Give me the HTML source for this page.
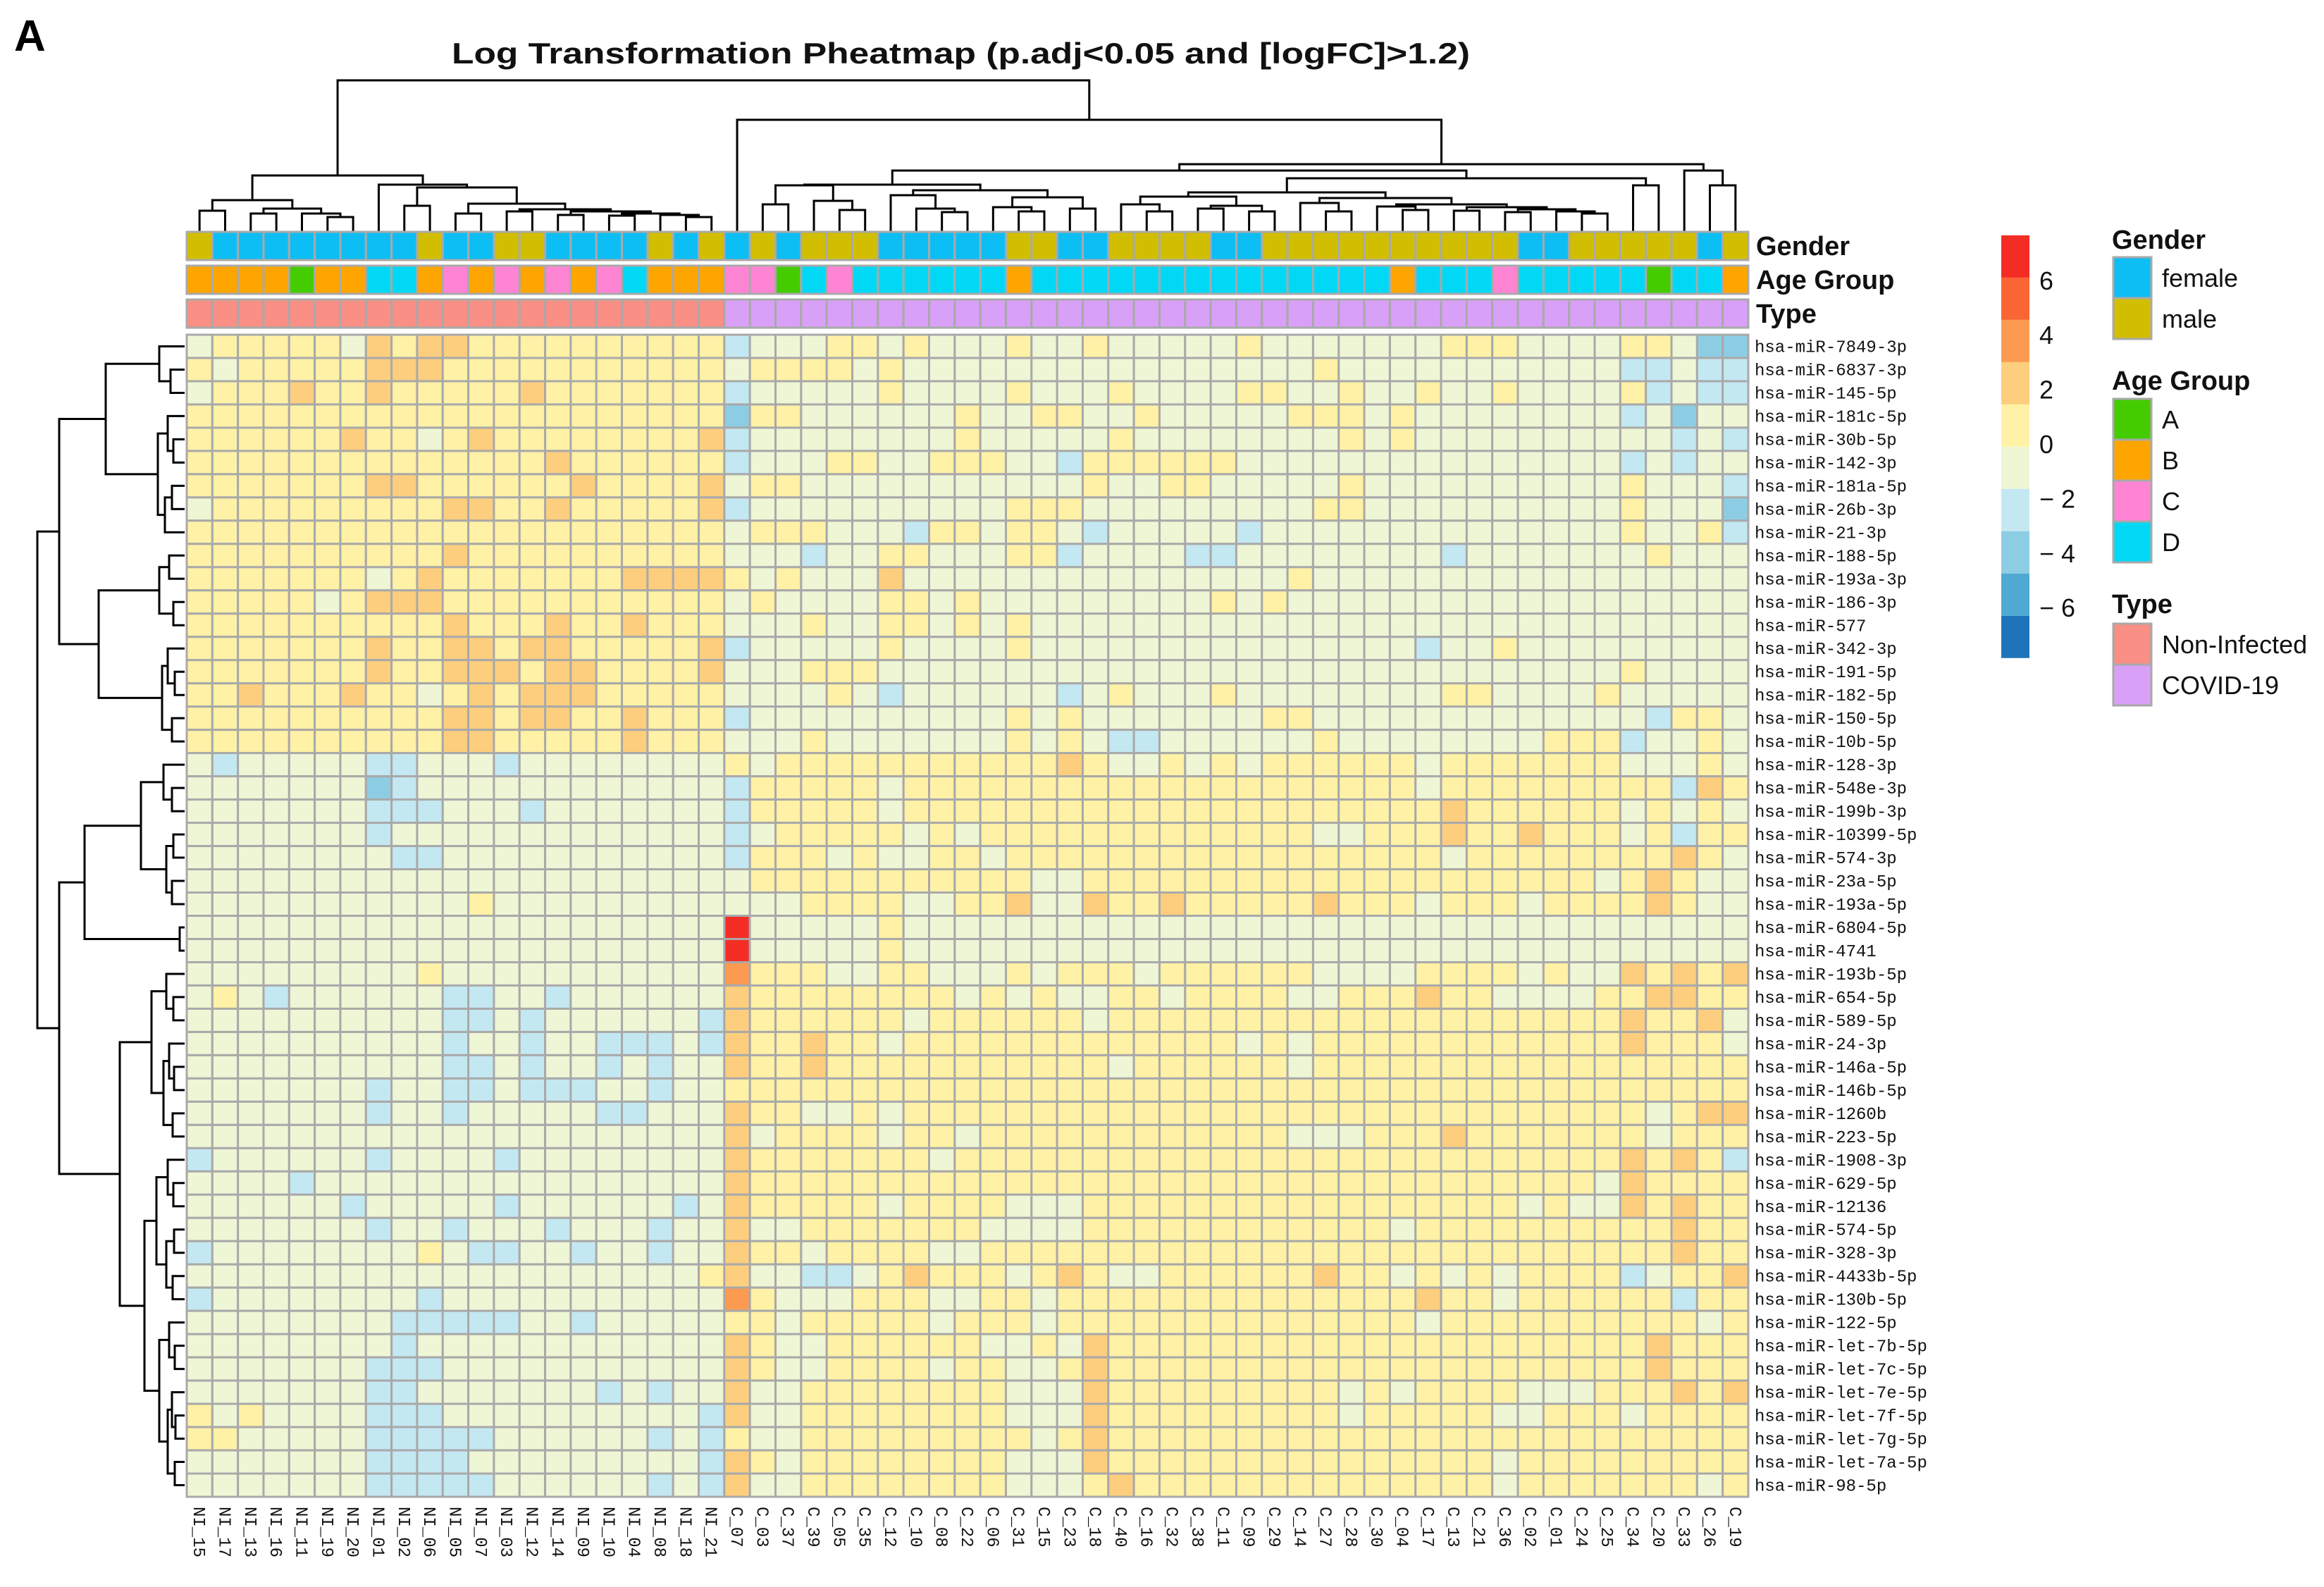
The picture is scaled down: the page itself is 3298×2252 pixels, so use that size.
<!DOCTYPE html>
<html><head><meta charset="utf-8"><title>Log Transformation Pheatmap</title>
<style>
html,body{margin:0;padding:0;background:#fff;}
svg{display:block;}
</style></head>
<body>
<svg id="chart" xmlns="http://www.w3.org/2000/svg" width="3298" height="2252" viewBox="0 0 3298 2252">
<rect x="0" y="0" width="3298" height="2252" fill="#ffffff"/>
<text x="20" y="72" font-family="Liberation Sans, sans-serif" font-weight="bold" font-size="62" fill="#000">A</text>
<text x="641" y="90" textLength="1445" lengthAdjust="spacingAndGlyphs" font-family="Liberation Sans, sans-serif" font-weight="bold" font-size="42" fill="#111">Log Transformation  Pheatmap  (p.adj&lt;0.05  and  [logFC]&gt;1.2)</text>
<g id="dendro-col"></g>
<g id="dendro-row"></g>
<g id="annot"></g>
<g id="cells"></g>
<g id="rowlabels"></g>
<g id="collabels"></g>
<g id="colorbar"></g>
<g id="legend"></g>
</svg>
<script>
// ---------- data ----------
const columnNames = ["NI_15","NI_17","NI_13","NI_16","NI_11","NI_19","NI_20","NI_01","NI_02","NI_06","NI_05","NI_07","NI_03","NI_12","NI_14","NI_09","NI_10","NI_04","NI_08","NI_18","NI_21",
"C_07","C_03","C_37","C_39","C_05","C_35","C_12","C_10","C_08","C_22","C_06","C_31","C_15","C_23","C_18","C_40","C_16","C_32","C_38","C_11","C_09","C_29","C_14","C_27","C_28","C_30","C_04","C_17","C_13","C_21","C_36","C_02","C_01","C_24","C_25","C_34","C_20","C_33","C_26","C_19"];
const rowNames = ["hsa-miR-7849-3p","hsa-miR-6837-3p","hsa-miR-145-5p","hsa-miR-181c-5p","hsa-miR-30b-5p","hsa-miR-142-3p","hsa-miR-181a-5p","hsa-miR-26b-3p","hsa-miR-21-3p","hsa-miR-188-5p","hsa-miR-193a-3p","hsa-miR-186-3p","hsa-miR-577","hsa-miR-342-3p","hsa-miR-191-5p","hsa-miR-182-5p","hsa-miR-150-5p","hsa-miR-10b-5p","hsa-miR-128-3p","hsa-miR-548e-3p","hsa-miR-199b-3p","hsa-miR-10399-5p","hsa-miR-574-3p","hsa-miR-23a-5p","hsa-miR-193a-5p","hsa-miR-6804-5p","hsa-miR-4741","hsa-miR-193b-5p","hsa-miR-654-5p","hsa-miR-589-5p","hsa-miR-24-3p","hsa-miR-146a-5p","hsa-miR-146b-5p","hsa-miR-1260b","hsa-miR-223-5p","hsa-miR-1908-3p","hsa-miR-629-5p","hsa-miR-12136","hsa-miR-574-5p","hsa-miR-328-3p","hsa-miR-4433b-5p","hsa-miR-130b-5p","hsa-miR-122-5p","hsa-miR-let-7b-5p","hsa-miR-let-7c-5p","hsa-miR-let-7e-5p","hsa-miR-let-7f-5p","hsa-miR-let-7g-5p","hsa-miR-let-7a-5p","hsa-miR-98-5p"];
// value levels (log-scale expression) keyed by code letter
const levelCodes = ["r","O","o","y","g","b","B"];
const levelValues = [6.9, 3.8, 2.2, 0.7, -0.8, -2.4, -3.9];
// run-length encoded cell levels per row (NI | C part1 | C part2)
const cellRows = [
"g y5 g o y o2 y10 b g3 y2 g y g3 y g2 y g5 y g7 y3 g4 y2 g B2",
"y g y5 o3 y11 g y4 g y g13 g3 y g11 b2 g b2",
"g y3 o y2 o y5 o y7 b g5 y g4 y g3 y g4 y2 g2 y g2 y g2 y g4 y b g b2",
"y21 B y2 g6 y g2 y2 g2 y g3 g2 y3 g y g8 b g B g2",
"y6 o y2 g y o y8 o b g8 y g5 y g4 g4 y g y g10 b g b",
"y14 o y6 b g3 y2 g2 y3 g2 b y6 g15 b g b g2",
"y7 o2 y6 o y4 o g y2 g11 y g2 y2 g g4 y g10 y g3 b",
"g y9 o2 y2 o y5 o b g10 y3 g6 g3 y2 g10 y g3 B",
"y21 g y3 g3 b y2 g y2 g b g5 b g14 y g2 y b",
"y10 o y10 g3 b g2 y2 g3 y2 b g4 b2 g8 b g7 y g3",
"y7 g y o y7 o4 y g y g3 o g13 g2 y g17",
"y5 g y o3 y11 g y g4 y2 g y g9 y g y g18",
"y10 o y3 o y2 o y3 g3 y g2 y2 g y g y g8 g20",
"y7 o y2 o2 y o2 y5 o b g5 y g4 y g8 g7 b g2 y g9",
"y7 o y2 o3 y o2 y4 o g3 y3 g14 g15 y g4",
"y2 o y3 o y2 g y o y o3 y5 g4 y g b g6 b g y g3 y g8 y2 g4 y g5",
"y10 o2 y o2 y2 o y3 b g10 y g y g6 g y2 g13 b y2 g",
"y10 o2 y5 o y3 g3 y g7 y g y g b2 g3 g3 y g8 y3 b g2 y g",
"g b g5 b2 g3 b g8 y g y11 o y g2 y g y g y6 g y7 g3 y g",
"g7 B b g12 b y5 g y13 y7 g y9 b o y",
"g7 b3 g3 b g7 b y5 g y13 y8 o y6 g y g y g",
"g7 b g13 b g y5 g y g y10 y3 g2 y3 o y2 o y3 g y b y2",
"g8 b2 g11 b y3 g y g2 y2 g y9 y8 g y8 o y g",
"g21 g y11 g2 y6 y14 g y o y g2",
"g11 y g9 g3 y4 g2 y2 o g2 o y2 o y2 y3 o y3 g y3 g y4 o y g2",
"g21 r g5 y g13 g20",
"g21 r g5 y g13 g20",
"g9 y g11 O y3 g2 y2 g3 y g y3 g y3 y3 g4 y4 g y g2 o y o y o",
"g y g b g6 b2 g2 b g6 o y8 g y g y g2 y2 g y2 y2 g2 y3 o y2 g4 y2 o2 y2",
"g10 b2 g b g6 b o y6 g y6 g y5 y15 o y2 o g",
"g10 b g2 b g2 b3 g b o y2 o y2 g y13 g y g y12 o y3 g",
"g10 b2 g b g2 b g b g2 o y2 o y11 g y4 y2 g y17",
"g7 b g2 b2 g b3 g2 b g2 y20 y20",
"g7 b g2 b g5 b2 g3 o y2 g2 y g y13 y16 g y o2",
"g21 o g y4 g y2 g y10 y2 g3 y3 o y7 g y3",
"b g6 b g4 b g8 o y7 g y11 y15 o y o y b",
"g4 b g16 o y19 y14 g o y4",
"g6 b g5 b g6 b g o y5 g y4 g3 y6 y11 g y g2 o y o y2",
"g7 b g2 b g3 b g3 b g2 o g2 y7 g4 y6 y6 g y10 o y2",
"b g8 y g b2 g2 b g2 b g2 o y2 g y4 g2 y10 y17 o y2",
"g20 y o g2 b2 g y o y3 g y o y g2 y3 y3 o y2 g y g y g y4 b g y2 o",
"b g8 b g11 O y g3 y3 g2 y2 g y7 y7 o y2 g y6 b y2",
"g8 b5 g2 b g5 y2 g y5 g y3 g y7 y7 g y10 g y",
"g8 b g12 o y g2 y6 g2 y g o y5 y16 o y3",
"g7 b3 g11 o y g2 y4 g y2 g2 y o y5 y16 o y3",
"g7 b2 g7 b g b g2 o g2 y8 g3 o y5 y4 g y g y4 g3 y3 o y o",
"y g y g4 b3 g10 b o g2 y8 g3 o y5 y4 g y5 g2 y3 g y4",
"y2 g5 b5 g6 b g b y g2 y9 g y o y5 y20",
"g7 b4 g9 b o y g y8 g3 o y5 y10 g y9",
"g7 b5 g6 b g b o g2 y8 g3 y o y4 y10 g y7 g y"
];
const genderCodes = "mffffffffmffmmffffmfm"+"fmfmmmfffffmmffmmmmffmmmmmmmmmmffmmmmmfm";
const ageCodes = "BBBBABBDDBCBCBCBCDBBB"+"CCADCDDDDDDBDDDDDDDDDDDDDDBDDDCDDDDDADDB";
const typeCodes = "NNNNNNNNNNNNNNNNNNNNN"+"CCCCCCCCCCCCCCCCCCCCCCCCCCCCCCCCCCCCCCCC";
const tickValues = [6,4,2,0,-2,-4,-6];
const tickLabels = ["6","4","2","0","\u2212 2","\u2212 4","\u2212 6"];
const scaleTop = 7.65, bandStep = 1.55;
const bandColors = ["#F42D24","#FA6535","#FC9A52","#FDCE7E","#FFF1A6","#EEF6D5","#C4E8F2","#8CCDE4","#50A9D2","#1F74B9"];

// dendrograms: [left, right, height] ; leaves are indices
const colTree = [
 [[[0,1,299],[[2,3,303],[4,[5,6,308],303],296],284],
  [7,[[8,9,292],[[10,11,303],[[12,13,300],[[14,15,305],[[16,17,306],[18,[19,20,308],305],303],300],297],289],266],262],249],
 [21,[[[[[22,23,290],[24,[25,26,298],285],263],[[27,[28,[29,30,301],296],277],[[31,[32,33,300],294],[34,35,296],280],270],262],
      [[[[36,[37,38,300],290],[[39,40,296],[41,42,300],292],279],[[43,[44,45,300],288],[[46,[47,48,298],293],[[49,50,299],[[51,52,301],[53,[54,55,303],300],297],294],290],281],273],[56,57,263],253],242],
     [58,[59,60,263],242],233],170],
 114];
const rowTree = [
 [[[0,[1,2,242],226],[[3,[4,5,246],238],[[6,7,244],8,234],224],150],
  [[[9,10,240],[11,12,246],226],[[13,[14,15,248],238],[16,17,244],230],140],84],
 [[[[18,[19,20,244],232],[[21,22,246],[23,24,244],236],200],[25,26,255],120],
  [[[27,[28,29,246],236],[[30,[31,32,247],240],[33,34,245],232],215],
   [[[35,[36,37,246],238],[[38,39,247],[40,41,245],236],222],[[42,[43,44,248],240],[[45,[46,47,249],244],[48,49,248],238],226],205],170],84],
 53];

// ---------- geometry ----------
const NS = "http://www.w3.org/2000/svg";
const xLeft = 265, cellW = (2481-265)/61, yTop = 475, cellH = (2124-475)/50;
const xOf = i => xLeft + i*cellW;
const yOf = j => yTop + j*cellH;
const colorOf = v => { let k = Math.floor((scaleTop - v)/bandStep); k = Math.max(0, Math.min(bandColors.length-1, k)); return bandColors[k]; };
const scaleY = v => 630 - v*38.7;

function mk(tag, attrs, parent){ const e=document.createElementNS(NS,tag); for(const k in attrs) e.setAttribute(k,attrs[k]); parent.appendChild(e); return e; }
function decode(s){ const out=[]; s.trim().split(/\s+/).forEach(t=>{ const c=t[0]; const n=t.length>1?parseInt(t.slice(1)):1; for(let i=0;i<n;i++) out.push(c); }); return out; }

// ---------- cells ----------
const cellsG = document.getElementById("cells");
cellRows.forEach((row, j) => {
  let codes = decode(row);
  while (codes.length < columnNames.length) codes.push(codes[codes.length-1]);
  codes = codes.slice(0, columnNames.length);
  codes.forEach((c, i) => {
    const v = levelValues[levelCodes.indexOf(c)];
    const r = mk("rect", {x:xOf(i), y:yOf(j), width:cellW, height:cellH, fill:colorOf(v), stroke:"#A9A9A9", "stroke-width":3}, cellsG);
    
    
  });
});

// ---------- annotations ----------
const annotG = document.getElementById("annot");
const genderColor = {f:"#0DBEF5", m:"#D2BE00"};
const ageColor = {A:"#45CC00", B:"#FFA500", C:"#FF84D4", D:"#00D8F6"};
const typeColor = {N:"#F98F85", C:"#D9A0F8"};
const annRows = [[genderCodes, genderColor, 329, "Gender", "gender-annotation"],[ageCodes, ageColor, 377, "Age Group", "age-group-annotation"],[typeCodes, typeColor, 425, "Type", "type-annotation"]];
annRows.forEach(a => {
  for (let i=0;i<columnNames.length;i++){
    const r = mk("rect",{x:xOf(i),y:a[2],width:cellW,height:40,fill:a[1][a[0][i]],stroke:"#A9A9A9","stroke-width":3},annotG);
    
    
  }
  const t = mk("text",{x:2492,y:a[2]+33,"font-family":"Liberation Sans, sans-serif","font-weight":"bold","font-size":38,fill:"#111"},annotG);
  t.textContent = a[3];
  
  
});

// ---------- labels ----------
const rlG = document.getElementById("rowlabels");
rowNames.forEach((n,j)=>{
  const t = mk("text",{x:2490,y:yOf(j)+cellH/2+8,"font-family":"Liberation Mono, monospace","font-size":24,fill:"#111"},rlG);
  t.textContent = n;
  
  
});
const clG = document.getElementById("collabels");
columnNames.forEach((n,i)=>{
  const cx = xOf(i)+cellW/2 - 8, cy = 2138;
  const t = mk("text",{x:cx,y:cy,transform:`rotate(90 ${cx} ${cy})`,"font-family":"Liberation Mono, monospace","font-size":24,fill:"#111"},clG);
  t.textContent = n;
  
  
});

// ---------- dendrograms ----------
const dcG = document.getElementById("dendro-col");
function drawCol(node){
  if (typeof node === "number") return {p: xOf(node)+cellW/2, h: 328};
  const a = drawCol(node[0]), b = drawCol(node[1]), h = node[2];
  const pl = mk("polyline",{points:`${a.p},${a.h} ${a.p},${h} ${b.p},${h} ${b.p},${b.h}`,fill:"none",stroke:"#000","stroke-width":3},dcG);
  
  
  return {p:(a.p+b.p)/2, h:h};
}
drawCol(colTree);
const drG = document.getElementById("dendro-row");
function drawRow(node){
  if (typeof node === "number") return {p: yOf(node)+cellH/2, h: 262};
  const a = drawRow(node[0]), b = drawRow(node[1]), h = node[2];
  const pl = mk("polyline",{points:`${a.h},${a.p} ${h},${a.p} ${h},${b.p} ${b.h},${b.p}`,fill:"none",stroke:"#000","stroke-width":3},drG);
  
  
  return {p:(a.p+b.p)/2, h:h};
}
drawRow(rowTree);

// ---------- color scale ----------
const cbG = document.getElementById("colorbar");
bandColors.forEach((c,k)=>{
  const y0 = scaleY(scaleTop - k*bandStep), y1 = scaleY(scaleTop - (k+1)*bandStep);
  const r = mk("rect",{x:2840,y:y0,width:40,height:y1-y0,fill:c},cbG);
  
  
});
tickValues.forEach((v,k)=>{
  const t = mk("text",{x:2894,y:scaleY(v)+13,"font-family":"Liberation Sans, sans-serif","font-size":36,fill:"#111"},cbG);
  t.textContent = tickLabels[k];
  
  
});

// ---------- annotation legend ----------
const lgG = document.getElementById("legend");
const legendGroups = [
  ["Gender", 353, [["female","#0DBEF5"],["male","#D2BE00"]], 365, "gender"],
  ["Age Group", 553, [["A","#45CC00"],["B","#FFA500"],["C","#FF84D4"],["D","#00D8F6"]], 566, "age-group"],
  ["Type", 870, [["Non-Infected","#F98F85"],["COVID-19","#D9A0F8"]], 885, "type"]
];
legendGroups.forEach(g=>{
  const t = mk("text",{x:2997,y:g[1],"font-family":"Liberation Sans, sans-serif","font-weight":"bold","font-size":38,fill:"#111"},lgG);
  t.textContent = g[0];
  
  
  g[2].forEach((e,k)=>{
    const y = g[3] + k*58;
    const r = mk("rect",{x:2999,y:y,width:54,height:58,fill:e[1],stroke:"#A9A9A9","stroke-width":3},lgG);
    
    
    const l = mk("text",{x:3068,y:y+42,"font-family":"Liberation Sans, sans-serif","font-size":36,fill:"#111"},lgG);
    l.textContent = e[0];
    
    
  });
});
</script>
</body></html>
